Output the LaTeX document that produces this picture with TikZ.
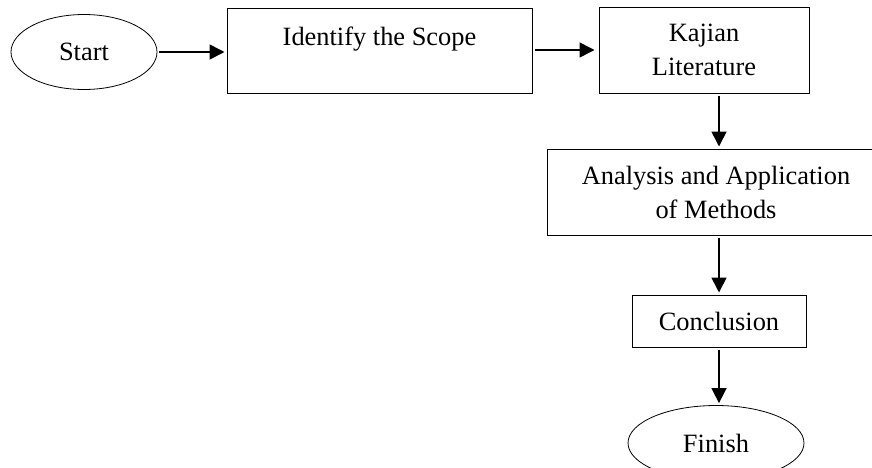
\documentclass[tikz,border=0pt]{standalone}
\usepackage{fontspec}
\setmainfont{Liberation Serif}
\usetikzlibrary{arrows.meta, shapes.geometric}

\begin{document}
\begin{tikzpicture}[x=0.5pt, y=-0.5pt, line width=0.5pt,
  box/.style = {draw, rectangle, align=center, inner sep=0pt, font=\fontsize{13.2pt}{17pt}\selectfont},
  oval/.style = {draw, ellipse, inner sep=0pt, line width=0.4pt, font=\fontsize{13.2pt}{17pt}\selectfont},
  arr/.style = {-{Triangle[length=7.5pt, width=7.5pt]}, line width=0.8pt, shorten <=1pt, shorten >=1pt}]
  \useasboundingbox (0,0) rectangle (872,467);
  \node[oval, minimum width=73pt, minimum height=37.5pt] (start) at (84,52) {Start};
  \node[box, minimum width=152.5pt, minimum height=42.5pt] (scope) at (379.5,50.5) {};
  \node[font=\fontsize{13.2pt}{17pt}\selectfont, inner sep=0pt] (scopetext) at (379.5,39) {Identify the Scope};
  \node[box, minimum width=105pt, minimum height=43pt] (kajian) at (704,50) {Kajian\\Literature};
  \node[box, minimum width=169pt, minimum height=43pt] (analysis) at (716,192) {Analysis and Application\\of Methods};
  \node[box, minimum width=87pt, minimum height=26pt] (conclusion) at (719,321) {Conclusion};
  \node[oval, minimum width=88pt, minimum height=37.5pt] (finish) at (716,443) {Finish};
  \draw[arr] (start.east) -- (scope.west |- start.east);
  \draw[arr, shorten >=2pt] (scope.east |- kajian.west) -- (kajian.west);
  \draw[arr] (kajian.south -| conclusion) -- (analysis.north -| conclusion);
  \draw[arr] (analysis.south -| conclusion) -- (conclusion.north);
  \draw[arr] (conclusion.south) -- (finish.north -| conclusion);
\end{tikzpicture}
\end{document}
